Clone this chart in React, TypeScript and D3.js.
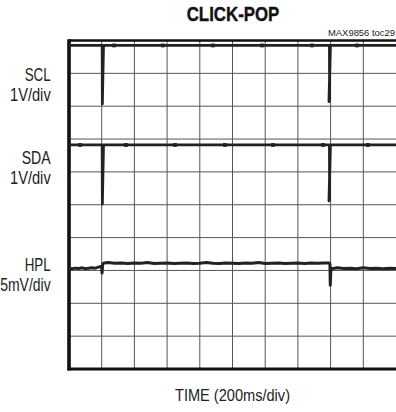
import React from "react";
import * as d3 from "d3";

// Screen is 10 x 10 divisions; values below are in divisions (x: time div, y: div from top)
const gridDivs = [0, 1, 2, 3, 4, 5, 6, 7, 8, 9, 10];

const sclTime = [0, 1.015, 1.02, 1.055, 7.965, 7.97, 7.95, 7.995, 10];
const sclLevel = [0.15, 0.15, 1.93, 0.15, 0.15, 1.8, 1.86, 0.15, 0.15];
const sclMarks = [1.38, 2.87, 4.4, 5.9, 7.43, 8.81];

const sdaTime = [0, 1.015, 1.02, 1.055, 7.965, 7.97, 7.95, 7.995, 10];
const sdaLevel = [3.18, 3.18, 4.98, 3.18, 3.18, 4.82, 4.88, 3.18, 3.18];
const sdaMarks = [0.34, 1.74, 3.24, 4.77, 6.24, 7.77, 9.14];

const hplTime = [
  0, 0.1, 0.2, 0.3, 0.4, 0.5, 0.6, 0.7, 0.8, 0.9, 0.97, 1.0, 1.01, 1.03, 1.08, 1.2, 1.4,
  1.6, 1.8, 2.0, 2.2, 2.4, 2.6, 2.8, 3.0, 3.2, 3.4, 3.6, 3.8, 4.0, 4.2, 4.4, 4.6, 4.8,
  5.0, 5.2, 5.4, 5.6, 5.8, 6.0, 6.2, 6.4, 6.6, 6.8, 7.0, 7.2, 7.4, 7.6, 7.8, 7.96, 7.98,
  7.99, 8.01, 8.05, 8.2, 8.4, 8.6, 8.8, 9.0, 9.2, 9.4, 9.6, 9.8, 10,
];
const hplLevel = [
  6.93, 6.95, 6.93, 6.94, 6.92, 6.95, 6.93, 6.92, 6.93, 6.9, 6.88, 6.9, 7.08, 6.8, 6.77,
  6.76, 6.78, 6.77, 6.79, 6.77, 6.78, 6.76, 6.79, 6.78, 6.77, 6.79, 6.78, 6.77, 6.79, 6.78,
  6.76, 6.78, 6.79, 6.77, 6.78, 6.79, 6.77, 6.78, 6.76, 6.79, 6.78, 6.77, 6.79, 6.78, 6.77,
  6.79, 6.77, 6.78, 6.77, 6.77, 6.82, 7.45, 6.93, 6.95, 6.92, 6.94, 6.93, 6.95, 6.92, 6.94,
  6.93, 6.95, 6.93, 6.94,
];

const W = 396;
const H = 412;

export default function App() {
  const x = d3.scaleLinear().domain([0, 10]).range([69, 396]);
  const y = d3.scaleLinear().domain([0, 10]).range([40.5, 369]);

  const line = d3
    .line<[number, number]>()
    .x((d) => x(d[0]))
    .y((d) => y(d[1]));

  const zip = (t: number[], v: number[]) => t.map((ti, i) => [ti, v[i]] as [number, number]);

  const font = "'Liberation Sans', Arial, Helvetica, sans-serif";

  return (
    <svg
      width={W}
      height={H}
      style={{ position: "absolute", left: 0, top: 0, background: "#fff" }}
      fontFamily={font}
    >
      <rect x={0} y={0} width={W} height={H} fill="#fff" />
      {/* grid */}
      {gridDivs.slice(1, 10).map((g) => (
        <line key={"v" + g} x1={x(g)} x2={x(g)} y1={y(0)} y2={y(10)} stroke="#555" strokeWidth={1} />
      ))}
      {gridDivs.slice(1, 10).map((g) => (
        <line key={"h" + g} x1={x(0)} x2={x(10)} y1={y(g)} y2={y(g)} stroke="#555" strokeWidth={1} />
      ))}
      {/* frame */}
      <line x1={x(0)} x2={x(10)} y1={y(0)} y2={y(0)} stroke="#111" strokeWidth={2.6} />
      <line x1={x(0) - 1.5} x2={x(10)} y1={y(10)} y2={y(10)} stroke="#111" strokeWidth={3.2} />
      <line x1={x(0)} x2={x(0)} y1={y(0) - 1.2} y2={y(10) + 1.5} stroke="#111" strokeWidth={3.6} />

      {/* traces */}
      <path d={line(zip(sclTime, sclLevel)) || ""} fill="none" stroke="#222" strokeWidth={2.8} strokeLinejoin="round" />
      <path d={line(zip(sdaTime, sdaLevel)) || ""} fill="none" stroke="#222" strokeWidth={2.8} strokeLinejoin="round" />
      <path d={line(zip(hplTime, hplLevel)) || ""} fill="none" stroke="#222" strokeWidth={3} strokeLinejoin="round" />
      {sclMarks.map((m) => (
        <rect key={"sm" + m} x={x(m) - 1.9} y={y(0.15) - 1.9} width={3.8} height={3.8} fill="#222" />
      ))}
      {sdaMarks.map((m) => (
        <rect key={"dm" + m} x={x(m) - 1.9} y={y(3.18) - 1.9} width={3.8} height={3.8} fill="#222" />
      ))}

      {/* title */}
      <text x={233} y={21.3} textAnchor="middle" fontSize={20.5} fontWeight="bold" fill="#111" stroke="#111" strokeWidth={0.4} textLength={92.6} lengthAdjust="spacingAndGlyphs">
        CLICK-POP
      </text>
      <text x={395} y={36} textAnchor="end" fontSize={9.5} fill="#222" textLength={67} lengthAdjust="spacingAndGlyphs">
        MAX9856 toc29
      </text>

      {/* channel labels */}
      <text x={50.7} y={81} textAnchor="end" fontSize={18} fill="#222" textLength={26} lengthAdjust="spacingAndGlyphs">SCL</text>
      <text x={50.7} y={101} textAnchor="end" fontSize={18} fill="#222" textLength={40.7} lengthAdjust="spacingAndGlyphs">1V/div</text>
      <text x={50.7} y={164} textAnchor="end" fontSize={18} fill="#222" textLength={29} lengthAdjust="spacingAndGlyphs">SDA</text>
      <text x={50.7} y={184} textAnchor="end" fontSize={18} fill="#222" textLength={40.7} lengthAdjust="spacingAndGlyphs">1V/div</text>
      <text x={50.7} y={271} textAnchor="end" fontSize={18} fill="#222" textLength={26} lengthAdjust="spacingAndGlyphs">HPL</text>
      <text x={50.7} y={290.7} textAnchor="end" fontSize={18} fill="#222" textLength={50.5} lengthAdjust="spacingAndGlyphs">5mV/div</text>

      {/* x label */}
      <text x={232.5} y={401} textAnchor="middle" fontSize={16} fill="#222" textLength={115} lengthAdjust="spacingAndGlyphs">
        TIME (200ms/div)
      </text>
    </svg>
  );
}
